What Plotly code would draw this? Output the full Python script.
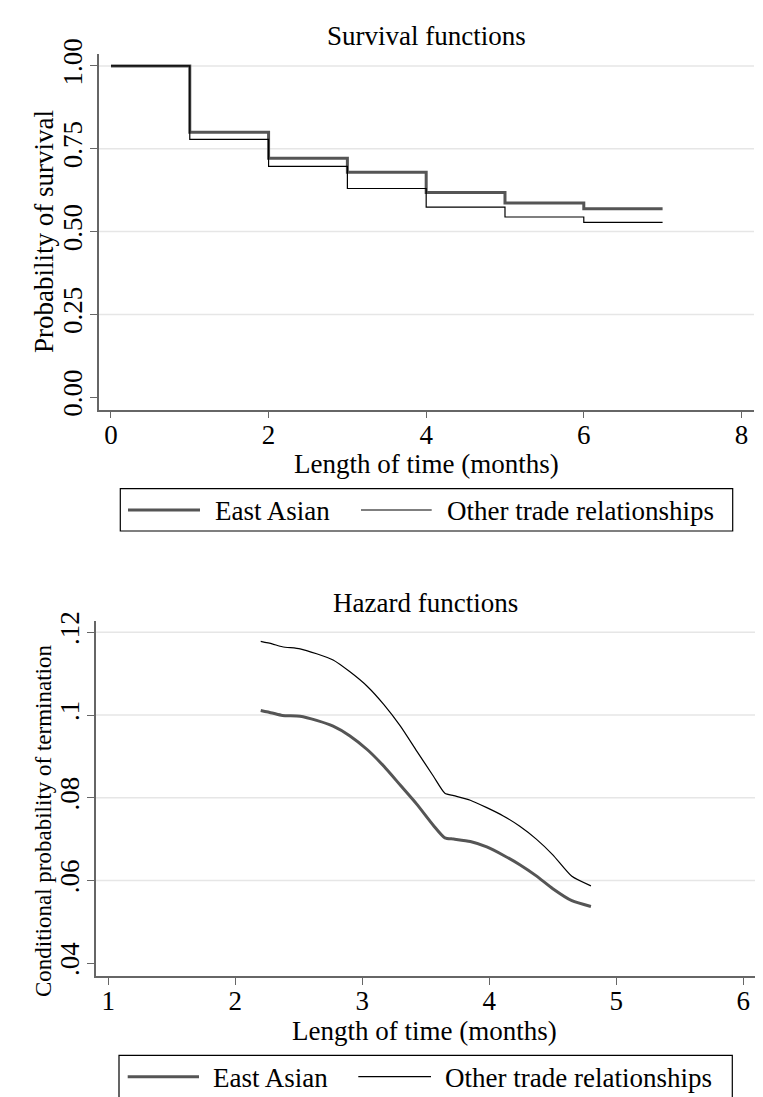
import plotly.graph_objects as go

# ---------------- data ----------------
series_names = ["East Asian", "Other trade relationships"]

# Survival (Kaplan-Meier style step functions)
surv_months = [0, 1, 2, 3, 4, 5, 6, 7]
surv_east_asian = [1.000, 0.800, 0.721, 0.679, 0.618, 0.586, 0.569, 0.569]
surv_other = [1.000, 0.778, 0.697, 0.630, 0.574, 0.544, 0.528, 0.528]

surv_xticks = [0, 2, 4, 6, 8]
surv_yticks = [0.0, 0.25, 0.50, 0.75, 1.00]
surv_yticklabels = ["0.00", "0.25", "0.50", "0.75", "1.00"]
surv_grid = [0.25, 0.50, 0.75, 1.00]

# Hazard (smoothed)
haz_time = [2.20, 2.29, 2.37, 2.51, 2.64, 2.77, 2.90, 3.04, 3.17, 3.30, 3.43,
            3.56, 3.65, 3.72, 3.85, 3.98, 4.11, 4.24, 4.37, 4.50, 4.65, 4.80]
haz_east_asian = [0.1011, 0.1005, 0.0999, 0.0997, 0.0987, 0.0973, 0.0950, 0.0916,
                  0.0876, 0.0830, 0.0784, 0.0733, 0.0703, 0.0700, 0.0694, 0.0681,
                  0.0661, 0.0638, 0.0611, 0.0580, 0.0551, 0.0537]
haz_other = [0.1178, 0.1172, 0.1165, 0.1160, 0.1148, 0.1133, 0.1105, 0.1069,
             0.1025, 0.0973, 0.0912, 0.0852, 0.0811, 0.0805, 0.0794, 0.0776,
             0.0756, 0.0731, 0.0700, 0.0662, 0.0610, 0.0587]

haz_xticks = [1, 2, 3, 4, 5, 6]
haz_yticks = [0.04, 0.06, 0.08, 0.10, 0.12]
haz_yticklabels = [".04", ".06", ".08", ".1", ".12"]
haz_grid = [0.06, 0.08, 0.10, 0.12]

# ---------------- styling ----------------
W, H = 763, 1097
OFF = 8  # page body margin of the html page
FONT = "Liberation Serif"
DARK = "#555555"
AXIS = "#666666"
GRID = "#e6e6e6"


def px_x(p):
    return (p - OFF) / W


def px_y(p):
    return 1 - (p - OFF) / H


fig = go.Figure()

fig.add_trace(go.Scatter(x=surv_months, y=surv_east_asian, mode="lines", line_shape="hv",
                         name=series_names[0], line=dict(color=DARK, width=3),
                         xaxis="x", yaxis="y", showlegend=False))
fig.add_trace(go.Scatter(x=surv_months, y=surv_other, mode="lines", line_shape="hv",
                         name=series_names[1], line=dict(color="black", width=1.2),
                         xaxis="x", yaxis="y", showlegend=False))
fig.add_trace(go.Scatter(x=haz_time, y=haz_east_asian, mode="lines", line_shape="spline",
                         name=series_names[0], line=dict(color=DARK, width=3, smoothing=0.6),
                         xaxis="x2", yaxis="y2", showlegend=False))
fig.add_trace(go.Scatter(x=haz_time, y=haz_other, mode="lines", line_shape="spline",
                         name=series_names[1], line=dict(color="black", width=1.2, smoothing=0.6),
                         xaxis="x2", yaxis="y2", showlegend=False))

axis_common = dict(showline=True, linecolor=AXIS, linewidth=1.5, ticks="outside",
                   ticklen=7, tickcolor=AXIS, tickwidth=1.2, showgrid=False,
                   zeroline=False, automargin=False,
                   tickfont=dict(family=FONT, size=27, color="black"))

fig.update_layout(
    width=W, height=H,
    margin=dict(l=0, r=0, t=0, b=0, autoexpand=False),
    paper_bgcolor="white", plot_bgcolor="white",
    font=dict(family=FONT, color="black"),
    xaxis=dict(domain=[px_x(99), px_x(754)], range=[-0.152, 8.16], anchor="y",
               tickvals=surv_xticks, ticklabelstandoff=-7, **axis_common),
    yaxis=dict(domain=[px_y(409.7), px_y(54.3)], range=[-0.0375, 1.035], anchor="x",
               tickvals=surv_yticks, ticktext=surv_yticklabels, tickangle=-90,
               ticklabelstandoff=-3, **axis_common),
    xaxis2=dict(domain=[px_x(96), px_x(755)], range=[0.903, 6.092], anchor="y2",
                tickvals=haz_xticks, ticklabelstandoff=-7, **axis_common),
    yaxis2=dict(domain=[px_y(976), px_y(620.7)], range=[0.0369, 0.1228], anchor="x2",
                tickvals=haz_yticks, ticktext=haz_yticklabels, tickangle=-90,
                ticklabelstandoff=-3, **axis_common),
)

shapes = []
for g in surv_grid:
    shapes.append(dict(type="line", xref="x domain", yref="y", x0=0, x1=1, y0=g, y1=g,
                       line=dict(color=GRID, width=1.5), layer="below"))
for g in haz_grid:
    shapes.append(dict(type="line", xref="x2 domain", yref="y2", x0=0, x1=1, y0=g, y1=g,
                       line=dict(color=GRID, width=1.5), layer="below"))


def label(text, x, y, size=27, angle=0, xanchor="center"):
    return dict(text=text, x=px_x(x), y=px_y(y), xref="paper", yref="paper",
                xanchor=xanchor, yanchor="middle", textangle=angle, showarrow=False,
                font=dict(family=FONT, size=size, color="black"))


annotations = [
    label("Survival functions", 426.5, 35.5),
    label("Hazard functions", 425.5, 603),
    label("Probability of survival", 44, 232, angle=-90),
    label("Conditional probability of termination", 44, 821, size=23, angle=-90),
    label("Length of time (months)", 426, 464),
    label("Length of time (months)", 425, 1031),
]

# manual legends (box, line samples, labels)
legends = [
    dict(box=(120.3, 488.7, 732.7, 531.0), liney=510.0,
         l1=(128, 200), t1=212.7, l2=(361, 431.7), t2=445.0),
    dict(box=(119.0, 1055.3, 732.3, 1120.0), liney=1076.7,
         l1=(127.7, 199), t1=210.7, l2=(358.3, 431.0), t2=443.3),
]
for lg in legends:
    x0, y0, x1, y1 = lg["box"]
    shapes.append(dict(type="rect", xref="paper", yref="paper", x0=px_x(x0), x1=px_x(x1),
                       y0=px_y(y1), y1=px_y(y0), line=dict(color="black", width=1.2),
                       fillcolor="white"))
    shapes.append(dict(type="line", xref="paper", yref="paper", x0=px_x(lg["l1"][0]),
                       x1=px_x(lg["l1"][1]), y0=px_y(lg["liney"]), y1=px_y(lg["liney"]),
                       line=dict(color=DARK, width=3)))
    shapes.append(dict(type="line", xref="paper", yref="paper", x0=px_x(lg["l2"][0]),
                       x1=px_x(lg["l2"][1]), y0=px_y(lg["liney"]), y1=px_y(lg["liney"]),
                       line=dict(color="black", width=1.2)))
    annotations.append(label(series_names[0], lg["t1"], lg["liney"] + 1, xanchor="left"))
    annotations.append(label(series_names[1], lg["t2"], lg["liney"] + 1, xanchor="left"))

fig.update_layout(shapes=shapes, annotations=annotations)

fig.write_html("out.html")
